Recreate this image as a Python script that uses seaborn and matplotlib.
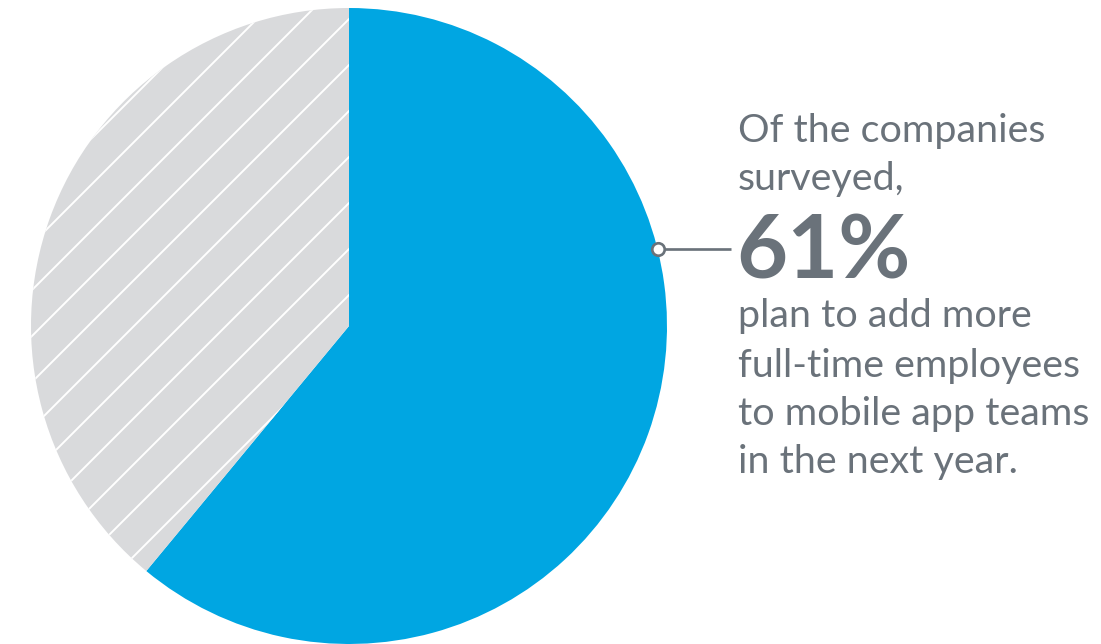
import numpy as np
import matplotlib
matplotlib.use("Agg")
import matplotlib.pyplot as plt
import seaborn as sns

# Data
labels = ["Plan to add more full-time employees", "Other"]
values = [61, 39]
headline = "61%"
text_top = ["Of the companies", "surveyed,"]
text_bottom = ["plan to add more", "full-time employees", "to mobile app teams", "in the next year."]

BLUE = "#00a6e2"
GRAY = "#d9dadc"
TEXT = "#6a727a"

sns.set_theme(style="white")
plt.rcParams['font.family'] = ['Lato', 'DejaVu Sans']
plt.rcParams['hatch.color'] = 'white'
plt.rcParams['hatch.linewidth'] = 1.0

DPI = 138
W, H = 1101, 644
fig = plt.figure(figsize=(W / DPI, H / DPI), dpi=DPI)
ax = fig.add_axes([0, 0, 1, 1])
ax.set_xlim(0, W)
ax.set_ylim(0, H)
ax.set_aspect('equal')
ax.axis('off')

cx, cy, r = 349, H - 326, 318
wedges, _ = ax.pie(values, colors=[BLUE, GRAY], startangle=90, counterclock=False,
                   center=(cx, cy), radius=r, frame=True,
                   wedgeprops=dict(linewidth=0))
wedges[1].set_hatch('/')
ax.set_xlim(0, W)
ax.set_ylim(0, H)
ax.axis('off')

# connector
ang = np.deg2rad(90 - 76)
px, py = cx + r * np.cos(ang), cy + r * np.sin(ang)
ax.plot([px, 731], [py, py], color=TEXT, lw=1.4, solid_capstyle='butt', zorder=5)
ax.plot([px], [py], marker='o', ms=6.5, mfc='white', mec=TEXT, mew=1.4, zorder=6)

fs = 20.6
x0 = 738
for txt, yb in zip(text_top, [142, 190]):
    ax.text(x0, H - yb, txt, fontsize=fs, color=TEXT, va='baseline', ha='left')
ax.text(x0 - 2, H - 278, headline, fontsize=46, fontweight='bold', color=TEXT,
        va='baseline', ha='left')
for txt, yb in zip(text_bottom, [327, 377, 425, 473]):
    ax.text(x0, H - yb, txt, fontsize=fs, color=TEXT, va='baseline', ha='left')

fig.savefig("out.png", dpi=DPI)
